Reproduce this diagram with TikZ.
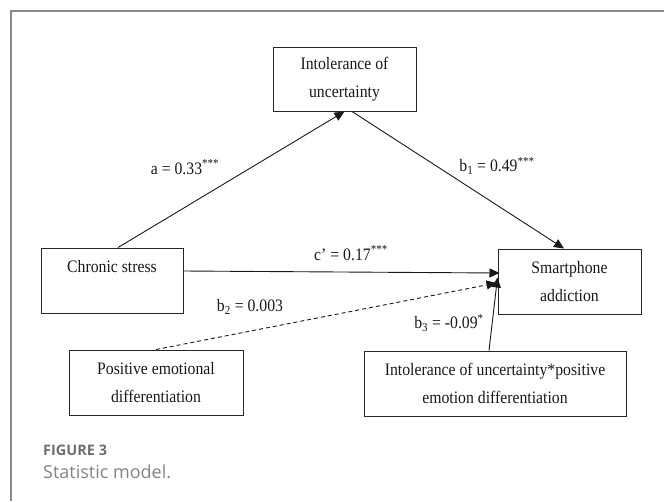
\documentclass[tikz,border=0pt]{standalone}
\usepackage{fontspec}
\setmainfont{Liberation Serif}[FakeStretch=0.9]
\newfontfamily\capfont{Open Sans}
\usetikzlibrary{arrows.meta}
\definecolor{framegray}{HTML}{8A8A8A}
\definecolor{capgray}{HTML}{6E6E6E}
\begin{document}
\begin{tikzpicture}[x=1pt,y=-1pt,
  box/.style={draw=black!85, line width=1pt, inner sep=0pt, align=center,
    font=\fontsize{17.5}{27.5}\selectfont, text=black!90},
  lbl/.style={inner sep=0pt, font=\fontsize{17.5}{19}\selectfont, text=black!90},
  arr/.style={draw=black!90, line width=0.9pt, -{Triangle[length=10pt,width=9pt]}},
  captext/.style={anchor=west, inner sep=0pt, text=capgray}]
\useasboundingbox (0,0) rectangle (664,501);
% frame
\draw[framegray, line width=1.4pt] (11,501) -- (11,11) -- (664,11);
% nodes
\node[box, minimum width=143pt, minimum height=64pt] (intol) at (344.5,79) {Intolerance of\\uncertainty};
\node[box, minimum width=142pt, minimum height=65pt] (chronic) at (112,280.5) {Chronic stress\\\mbox{}};
\node[box, minimum width=143pt, minimum height=65pt] (smart) at (569.5,281.5) {Smartphone\\addiction};
\node[box, minimum width=174pt, minimum height=65pt] (pos) at (156,382.5) {Positive emotional\\differentiation};
\node[box, minimum width=262pt, minimum height=65pt] (ip) at (495,383.5) {Intolerance of uncertainty*positive\\emotion differentiation};
% connectors
\coordinate (aS) at ([xshift=6pt]chronic.north);
\coordinate (bS) at ([xshift=7.5pt]intol.south);
\coordinate (bT) at ([xshift=-5.5pt]smart.north);
\coordinate (cS) at ([yshift=9.5pt]chronic.east);
\coordinate (cT) at ([yshift=8.5pt,xshift=2pt]smart.west);
\coordinate (dT) at ([yshift=-1.5pt,xshift=-1pt]smart.west);
\coordinate (eS) at ([xshift=-6pt]ip.north);
\coordinate (eT) at ([yshift=4pt]smart.west);
\draw[arr] (aS) -- (intol.south);
\draw[arr] (bS) -- (bT);
\draw[arr] (cS) -- (cT);
\draw[arr, dash pattern=on 4pt off 3pt] (pos.north) -- (dT);
\draw[arr] (eS) -- (eT);
% labels
\node[lbl] (la) at (185,167) {a = 0.33\textsuperscript{***}};
\node[lbl] (lb1) at (497,166) {b\textsubscript{1} = 0.49\textsuperscript{***}};
\node[lbl] (lc) at (351,253) {c’ = 0.17\textsuperscript{***}};
\node[lbl] (lb2) at (250,307) {b\textsubscript{2} = 0.003};
\node[lbl] (lb3) at (449,323) {b\textsubscript{3} = -0.09\textsuperscript{*}};
% caption
\node[captext, font=\capfont\bfseries\fontsize{14.5}{16}\selectfont] (fig) at (43,450) {FIGURE 3};
\node[captext, font=\capfont\fontsize{18}{20}\selectfont, text=capgray!85] (stat) at (43,472) {Statistic model.};
\end{tikzpicture}
\end{document}
